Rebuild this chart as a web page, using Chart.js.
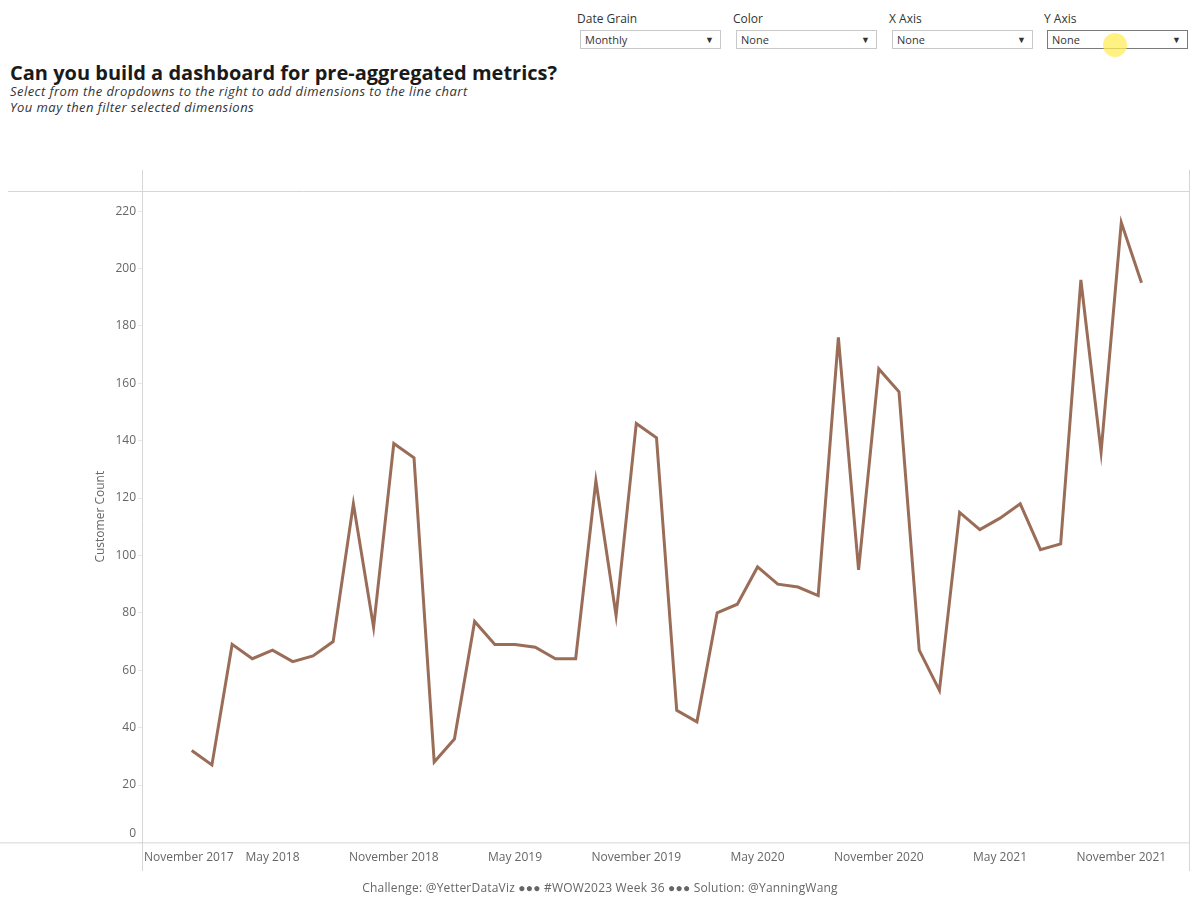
<!DOCTYPE html>
<html>
<head>
<meta charset="utf-8">
<script src="https://cdn.jsdelivr.net/npm/chart.js@4.4.1/dist/chart.umd.min.js"></script>
<style>
  html, body { margin: 0; padding: 0; background: #fff; }
  body { width: 1200px; height: 911px; position: relative; overflow: hidden; font-family: "Open Sans", sans-serif; }
  .title { position: absolute; left: 10px; top: 59px; font-size: 20px; font-weight: 700; color: #1a1a1a; white-space: nowrap; }
  .sub { position: absolute; left: 10px; font-size: 13px; letter-spacing: 0.45px; font-style: italic; color: #333; white-space: nowrap; }
  .param { position: absolute; top: 11px; width: 141px; }
  .param .lbl { font-size: 12px; color: #333; margin-left: -3px; height: 19px; line-height: 16px; }
  .param .box { height: 17px; border: 1px solid #c9c9c9; font-size: 11px; line-height: 17px; color: #333; padding-left: 4px; position: relative; }
  .param .box.focus { border-color: #7a7a7a; }
  .param .box span { position: absolute; right: 6px; top: 0; font-size: 9px; }
  .hl { position: absolute; left: 1103px; top: 33px; width: 24px; height: 24px; border-radius: 50%; background: rgba(255, 238, 90, 0.75); }
  #wrap { position: absolute; left: 0; top: 170px; width: 1200px; height: 710px; }
  .footer { position: absolute; left: 0; width: 1200px; top: 879px; text-align: center; font-size: 12px; letter-spacing: 0.2px; color: #666; }
</style>
</head>
<body>
<div class="param" style="left:580px"><div class="lbl">Date Grain</div><div class="box">Monthly<span>&#9660;</span></div></div>
<div class="param" style="left:736px"><div class="lbl">Color</div><div class="box">None<span>&#9660;</span></div></div>
<div class="param" style="left:892px"><div class="lbl">X Axis</div><div class="box">None<span>&#9660;</span></div></div>
<div class="param" style="left:1047px"><div class="lbl">Y Axis</div><div class="box focus">None<span>&#9660;</span></div></div>
<div class="hl"></div>

<div class="title">Can you build a dashboard for pre-aggregated metrics?</div>
<div class="sub" style="top:82px">Select from the dropdowns to the right to add dimensions to the line chart</div>
<div class="sub" style="top:98px">You may then filter selected dimensions</div>

<div id="wrap"><canvas id="lineChart"></canvas></div>

<div class="footer">Challenge: @YetterDataViz &#9679;&#9679;&#9679; #WOW2023 Week 36 &#9679;&#9679;&#9679; Solution: @YanningWang</div>

<script>
// === DATA ===
// months counted from November 2017 (index 0)
const months = [
  "2018-01", "2018-02", "2018-03", "2018-04", "2018-05", "2018-06",
  "2018-07", "2018-08", "2018-09", "2018-10", "2018-11", "2018-12",
  "2019-01", "2019-02", "2019-03", "2019-04", "2019-05", "2019-06",
  "2019-07", "2019-08", "2019-09", "2019-10", "2019-11", "2019-12",
  "2020-01", "2020-02", "2020-03", "2020-04", "2020-05", "2020-06",
  "2020-07", "2020-08", "2020-09", "2020-10", "2020-11", "2020-12",
  "2021-01", "2021-02", "2021-03", "2021-04", "2021-05", "2021-06",
  "2021-07", "2021-08", "2021-09", "2021-10", "2021-11", "2021-12",
];
const customerCount = [
  32, 27, 69, 64, 67, 63, 65, 70, 118, 75, 139, 134,
  28, 36, 77, 69, 69, 68, 64, 64, 126, 79, 146, 141,
  46, 42, 80, 83, 96, 90, 89, 86, 176, 95, 165, 157,
  67, 53, 115, 109, 113, 118, 102, 104, 196, 136, 216, 195,
];
const xTickLabels = [
  "November 2017", "May 2018", "November 2018", "May 2019", "November 2019",
  "May 2020", "November 2020", "May 2021", "November 2021",
];
const yTicks = [0, 20, 40, 60, 80, 100, 120, 140, 160, 180, 200, 220];

// month index relative to Nov 2017
const monthIndex = (m) => {
  const [y, mo] = m.split("-").map(Number);
  return (y - 2017) * 12 + (mo - 11);
};
const points = months.map((m, i) => ({ x: monthIndex(m), y: customerCount[i] }));

const LABEL_FONT = '12px "Open Sans", sans-serif';
const LINE_GREY = "#d6d6d6";

// === FRAME + AXIS LABELS (Tableau style) ===
const tableauFrame = {
  id: "tableauFrame",
  afterDraw(chart) {
    const { ctx, chartArea: a, scales } = chart;
    const h = chart.height;
    ctx.save();
    ctx.strokeStyle = LINE_GREY;
    ctx.lineWidth = 1;
    ctx.beginPath();
    ctx.moveTo(8, a.top + 0.5); ctx.lineTo(a.right, a.top + 0.5);
    ctx.moveTo(0, a.bottom + 0.5); ctx.lineTo(a.right, a.bottom + 0.5);
    ctx.moveTo(a.left + 0.5, 0); ctx.lineTo(a.left + 0.5, h - 9);
    ctx.moveTo(a.right - 0.5, 0); ctx.lineTo(a.right - 0.5, h - 9);
    ctx.stroke();

    // y labels
    ctx.font = LABEL_FONT;
    ctx.fillStyle = "#666";
    ctx.textAlign = "right";
    ctx.textBaseline = "middle";
    yTicks.forEach((v) => {
      const y = Math.min(scales.y.getPixelForValue(v), a.bottom - 9);
      ctx.fillText(String(v), a.left - 6, y);
    });

    // x labels, kept inside the pane
    ctx.textAlign = "left";
    xTickLabels.forEach((t, i) => {
      const w = ctx.measureText(t).width;
      let x = scales.x.getPixelForValue(i * 6) - w / 2;
      x = Math.max(x, a.left + 2);
      x = Math.min(x, a.right - w - 2);
      ctx.fillText(t, x, a.bottom + 15);
    });

    // axis title
    ctx.translate(101, (a.top + a.bottom) / 2);
    ctx.rotate(-Math.PI / 2);
    ctx.textAlign = "center";
    ctx.fillText("Customer Count", 0, 0);
    ctx.restore();
  },
};

// === CHART ===
const ctx = document.getElementById("lineChart").getContext("2d");
const chart = new Chart(ctx, {
  type: "line",
  data: {
    datasets: [
      {
        label: "Customer Count",
        data: points,
        borderColor: "#9a6d58",
        borderWidth: 3,
        pointRadius: 0,
        tension: 0,
      },
    ],
  },
  options: {
    responsive: true,
    maintainAspectRatio: false,
    animation: false,
    layout: { padding: { top: 21, right: 10, left: 0, bottom: 0 } },
    plugins: { legend: { display: false }, tooltip: { enabled: false } },
    scales: {
      x: {
        type: "linear",
        min: -0.46,
        max: 51.4,
        ticks: { display: false },
        grid: { display: false },
        border: { display: false },
        afterFit: (s) => { s.height = 37.6; },
      },
      y: {
        min: 0,
        max: 227,
        ticks: { display: false, stepSize: 20, includeBounds: false },
        grid: { drawOnChartArea: false, tickLength: 4, color: "#e8e8e8" },
        border: { display: false },
        afterFit: (s) => { s.width = 142; },
      },
    },
  },
  plugins: [tableauFrame],
});
</script>
</body>
</html>
